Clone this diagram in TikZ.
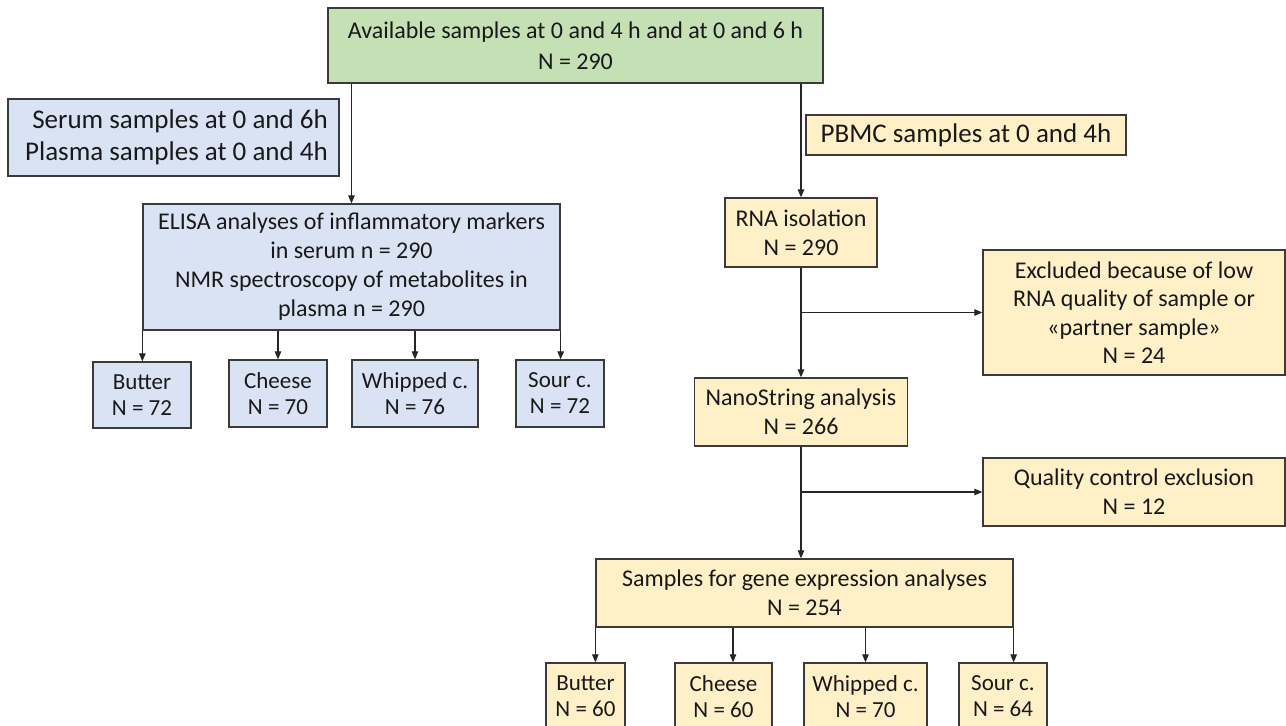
\documentclass[tikz,border=0pt]{standalone}
\usepackage{fontspec}
\setmainfont{Carlito}
\usetikzlibrary{arrows.meta}
\definecolor{gfill}{HTML}{C5E0B4}
\definecolor{bfill}{HTML}{DAE3F3}
\definecolor{yfill}{HTML}{FFF0C8}
\definecolor{edge}{HTML}{3A3A3A}
\tikzset{
  box/.style={draw=edge, line width=1.3pt, inner sep=0pt, align=center, text=black!90,
    font=\fontsize{24}{29}\selectfont},
  gbox/.style={box, fill=gfill},
  bbox/.style={box, fill=bfill},
  ybox/.style={box, fill=yfill},
  small/.style={font=\fontsize{23}{26}\selectfont},
  arr/.style={draw=black!85, line width=1.1pt, -{Triangle[length=8pt,width=6.5pt]}}
}
\begin{document}
\begin{tikzpicture}[x=1pt,y=-1pt]
\clip (0,0) rectangle (1286,726);
\fill[white] (0,0) rectangle (1286,726);
% left column
\node[gbox, minimum width=495, minimum height=75, font=\fontsize{24}{31}\selectfont] (top) at (575.5,45.5) {Available samples at 0 and 4 h and at 0 and 6 h\\N = 290};
\node[bbox, minimum width=331, minimum height=77, align=right, font=\fontsize{27}{32}\selectfont] (serum) at (173.5,137.5) {Serum samples at 0 and 6h\\\hspace*{6pt}Plasma samples at 0 and 4h};
\node[ybox, minimum width=320, minimum height=40, font=\fontsize{27}{30}\selectfont] (pbmc) at (966,135) {PBMC samples at 0 and 4h};
\node[bbox, minimum width=417, minimum height=126] (elisa) at (351.5,267) {ELISA analyses of inflammatory markers\\in serum n = 290\\NMR spectroscopy of metabolites in\\plasma n = 290};
\node[bbox, small, minimum width=98, minimum height=66] (lb1) at (142,395) {Butter\\N = 72};
\node[bbox, small, minimum width=98, minimum height=67] (lb2) at (278,393.5) {Cheese\\N = 70};
\node[bbox, small, minimum width=126, minimum height=67] (lb3) at (415,393.5) {Whipped c.\\N = 76};
\node[bbox, small, minimum width=88, minimum height=67] (lb4) at (560,393.5) {Sour c.\\N = 72};
% right column
\node[ybox, minimum width=152, minimum height=69] (rna) at (801,232.5) {RNA isolation\\N = 290};
\node[ybox, minimum width=302, minimum height=125, font=\fontsize{24}{28.5}\selectfont] (excl) at (1134,312.5) {Excluded because of low\\RNA quality of sample or\\«partner sample»\\N = 24};
\node[ybox, minimum width=213, minimum height=68] (nano) at (801,412) {NanoString analysis\\N = 266};
\node[ybox, minimum width=302, minimum height=68] (qc) at (1134,492) {Quality control exclusion\\N = 12};
\node[ybox, minimum width=417, minimum height=68] (samp) at (804.5,593) {Samples for gene expression analyses\\N = 254};
\node[ybox, small, minimum width=79, minimum height=67] (rb1) at (585.5,696.5) {Butter\\N = 60};
\node[ybox, small, minimum width=97, minimum height=67] (rb2) at (723.5,696.5) {Cheese\\N = 60};
\node[ybox, small, minimum width=123, minimum height=67] (rb3) at (865.5,696.5) {Whipped c.\\N = 70};
\node[ybox, small, minimum width=88, minimum height=67] (rb4) at (1003,696.5) {Sour c.\\N = 64};
% connectors
\draw[arr] (top.south -| elisa.north) -- (elisa.north);
\draw[arr] (top.south -| rna.north) -- (rna.north);
\draw[arr] (elisa.south west) -- (elisa.south west |- lb1.north);
\draw[arr] (lb2.north |- elisa.south) -- (lb2.north);
\draw[arr] (lb3.north |- elisa.south) -- (lb3.north);
\draw[arr] (elisa.south east) -- (elisa.south east |- lb4.north);
\draw[arr] (rna.south) -- (nano.north);
\draw[arr] (rna.south |- excl.west) -- (excl.west);
\draw[arr] (nano.south) -- (nano.south |- samp.north);
\draw[arr] (nano.south |- qc.west) -- (qc.west);
\draw[arr] (samp.south west) -- (samp.south west |- rb1.north);
\draw[arr] ([xshift=9.5pt]rb2.north |- samp.south) -- ([xshift=9.5pt]rb2.north);
\draw[arr] (rb3.north |- samp.south) -- (rb3.north);
\draw[arr] (samp.south east) -- (samp.south east |- rb4.north);
\end{tikzpicture}
\end{document}
